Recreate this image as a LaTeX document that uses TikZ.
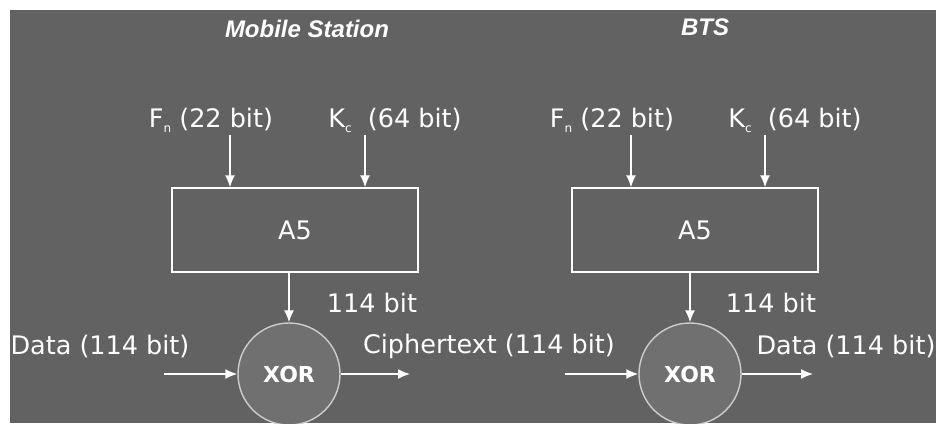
\documentclass[tikz,border=0pt]{standalone}
\usepackage{fontspec}
\setmainfont{DejaVu Sans}
\newfontfamily\titlefont{Liberation Sans}
\usetikzlibrary{arrows.meta}
\definecolor{slate}{RGB}{98,98,98}
\definecolor{xorfill}{RGB}{112,112,112}
\definecolor{rimgray}{RGB}{205,205,205}
\newcommand{\lowsub}[1]{\raisebox{-5pt}{\fontsize{12}{12}\selectfont #1}}
\tikzset{
  lbl/.style={text=white, font=\fontsize{25.5}{29}\selectfont, inner sep=3pt},
  sidetitle/.style={text=white, font=\titlefont\bfseries\itshape\fontsize{24}{28}\selectfont, inner sep=0pt},
  cipherbox/.style={draw=white, line width=1.4pt, minimum width=246pt, minimum height=84pt, text=white, font=\fontsize{25.5}{29}\selectfont},
  xorcirc/.style={circle, draw=rimgray, line width=1.4pt, fill=xorfill, minimum size=102pt, inner sep=0pt, text=white, font=\bfseries\fontsize{22}{26}\selectfont},
  flow/.style={-{Latex[length=12pt,width=10pt]}, white, line width=1.4pt}
}
\begin{document}
\begin{tikzpicture}[x=1pt,y=-1pt]
\useasboundingbox (0,0) rectangle (936,423);
\clip (10,10) rectangle (936,423);
\fill[slate] (10,10) rectangle (936,423);

% mobile station side
\node[sidetitle] (msTitle) at (307,29) {Mobile Station};
\node[lbl] (msFn) at (211,120) {F\lowsub{n} (22 bit)};
\node[lbl] (msKc) at (395,120) {K\lowsub{c}\ \ (64 bit)};
\node[cipherbox] (msA5) at (295,230) {A5};
\node[lbl] (msBits) at (372,303) {114 bit};
\node[xorcirc] (msXor) at (289,374) {XOR};
\node[lbl] (msIn) at (100,346) {Data (114 bit)};
\node[lbl] (msOut) at (489,346) {Ciphertext (114 bit)};
\coordinate (msSrc) at (164,374);
\coordinate (msSink) at (410,374);
\draw[flow] ([xshift=19pt]msFn.south) -- ([xshift=19pt]msFn.south |- msA5.north);
\draw[flow] ([xshift=-30pt]msKc.south) -- ([xshift=-30pt]msKc.south |- msA5.north);
\draw[flow] (msXor |- msA5.south) -- (msXor.north);
\draw[flow] (msSrc) -- (msXor.west);
\draw[flow] (msXor.east) -- (msSink);

% BTS side
\node[sidetitle] (btsTitle) at (705,27) {BTS};
\node[lbl] (btsFn) at (612,120) {F\lowsub{n} (22 bit)};
\node[lbl] (btsKc) at (795,120) {K\lowsub{c}\ \ (64 bit)};
\node[cipherbox] (btsA5) at (695,230) {A5};
\node[lbl] (btsBits) at (771,303) {114 bit};
\node[xorcirc] (btsXor) at (690,374) {XOR};
\node[lbl] (btsOut) at (846,346) {Data (114 bit)};
\coordinate (btsSrc) at (565,374);
\coordinate (btsSink) at (813,374);
\draw[flow] ([xshift=19pt]btsFn.south) -- ([xshift=19pt]btsFn.south |- btsA5.north);
\draw[flow] ([xshift=-30pt]btsKc.south) -- ([xshift=-30pt]btsKc.south |- btsA5.north);
\draw[flow] (btsXor |- btsA5.south) -- (btsXor.north);
\draw[flow] (btsSrc) -- (btsXor.west);
\draw[flow] (btsXor.east) -- (btsSink);
\end{tikzpicture}
\end{document}
